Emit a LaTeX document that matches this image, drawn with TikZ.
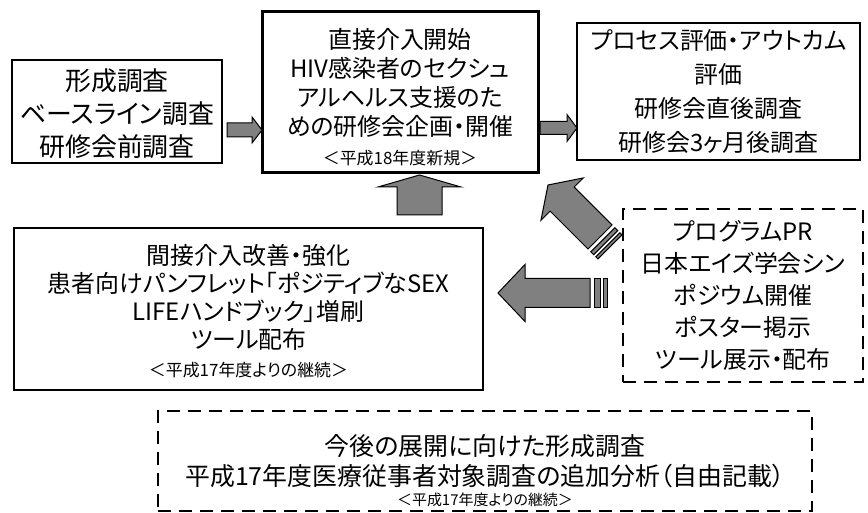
\documentclass[tikz,border=0pt]{standalone}
\usepackage{fontspec}
\setmainfont{Noto Sans CJK JP}[RawFeature=+palt]
\usetikzlibrary{positioning,calc}

\definecolor{arrowgray}{gray}{0.5}
\newcommand{\boxfont}[2]{\fontsize{#1}{#2}\selectfont}
\newcommand{\notefont}{\fontsize{17}{20}\selectfont}

\tikzset{
  box/.style={draw,align=center,inner sep=0pt},
  dashbox/.style={box,line width=2bp,dash pattern=on 13bp off 8bp},
  arrowbody/.style={fill=arrowgray,draw=black,line width=1bp,line join=miter},
}

% block arrow: tail, tip, shaft half width, head half width, head length
\newcommand{\blockarrow}[5]{%
  \coordinate (hb) at ($#2!#5!#1$);
  \filldraw[arrowbody] ($#1!#3!90:#2$) -- ($(hb)!#3!90:#2$) -- ($(hb)!#4!90:#2$)
    -- #2 -- ($(hb)!#4!-90:#2$) -- ($(hb)!#3!-90:#2$) -- ($#1!#3!-90:#2$) -- cycle;}
% stripe behind the tail: tail, tip, from, to, half width
\newcommand{\tailbar}[5]{%
  \coordinate (b1) at ($#1!-#3!#2$);
  \coordinate (b2) at ($#1!-#4!#2$);
  \filldraw[arrowbody] ($(b1)!#5!90:#2$) -- ($(b2)!#5!90:#2$)
    -- ($(b2)!#5!-90:#2$) -- ($(b1)!#5!-90:#2$) -- cycle;}

\begin{document}
\begin{tikzpicture}[line join=miter]
\useasboundingbox (0bp,0bp) rectangle (868bp,513bp);
%%
\node (survey) at (117bp,401.5bp) [box,line width=1.5bp,minimum width=210bp,minimum height=103bp,font=\boxfont{26}{33}] {\rule{0pt}{26bp}形成調査\\ベースライン調査\\研修会前調査};
  \node (direct) at (400bp,420.5bp) [box,line width=3bp,minimum width=276bp,minimum height=161bp,font=\boxfont{24}{29}] {\rule{0pt}{29bp}直接介入開始\\HIV感染者のセクシュ\\アルヘルス支援のた\\めの研修会企画・開催\\{\notefont ＜平成18年度新規＞}};
  \node (evaluation) at (718.5bp,421.5bp) [box,line width=1.5bp,minimum width=283bp,minimum height=137bp,font=\boxfont{24}{34}] {プロセス評価・アウトカム\\評価\\研修会直後調査\\研修会3ヶ月後調査};
  \node (indirect) at (248.5bp,204bp) [box,line width=2.5bp,minimum width=469bp,minimum height=162bp,font=\boxfont{24}{28}] {\rule{0pt}{25bp}間接介入改善・強化\\患者向けパンフレット「ポジティブなSEX\\LIFEハンドブック」増刷\\ツール配布\\{\notefont ＜平成17年度よりの継続＞}};
  \node (promotion) at (743bp,217.5bp) [dashbox,minimum width=240bp,minimum height=173bp,font=\boxfont{24}{32}] {プログラムPR\\日本エイズ学会シン\\ポジウム開催\\ポスター掲示\\ツール展示・配布};
  \node (formative) at (485bp,52bp) [dashbox,minimum width=654bp,minimum height=100bp] {};
  \node (formativetext) at (485bp,42bp) [align=center,inner sep=0pt,font=\boxfont{25}{30}] {今後の展開に向けた形成調査\\平成17年度医療従事者対象調査の追加分析（自由記載）\\[-10bp]{\fontsize{15}{20}\selectfont ＜平成17年度よりの継続＞}};
%
\coordinate (t1) at (227bp,383bp);
  \coordinate (h1) at (262bp,383bp);
  \coordinate (t2) at (540bp,385bp);
  \coordinate (h2) at (577bp,385bp);
  \coordinate (t3) at (419.5bp,298bp);
  \coordinate (h3) at (419.5bp,338bp);
  \coordinate (t4) at (600bp,276bp);
  \coordinate (h4) at (548bp,328bp);
  \coordinate (t5) at (590bp,220bp);
  \coordinate (h5) at (498bp,220bp);
  \blockarrow{(t1)}{(h1)}{7bp}{13bp}{10bp}
  \blockarrow{(t2)}{(h2)}{6.5bp}{13.5bp}{10bp}
  \blockarrow{(t3)}{(h3)}{22.5bp}{41.5bp}{12bp}
  \blockarrow{(t4)}{(h4)}{17bp}{30bp}{20bp}
  \tailbar{(t4)}{(h4)}{4bp}{8bp}{17bp}
  \tailbar{(t4)}{(h4)}{11bp}{14bp}{17bp}
  \blockarrow{(t5)}{(h5)}{14.5bp}{28.5bp}{27bp}
  \tailbar{(t5)}{(h5)}{4bp}{10bp}{14.5bp}
  \tailbar{(t5)}{(h5)}{13bp}{17bp}{14.5bp}
%
\end{tikzpicture}
\end{document}
